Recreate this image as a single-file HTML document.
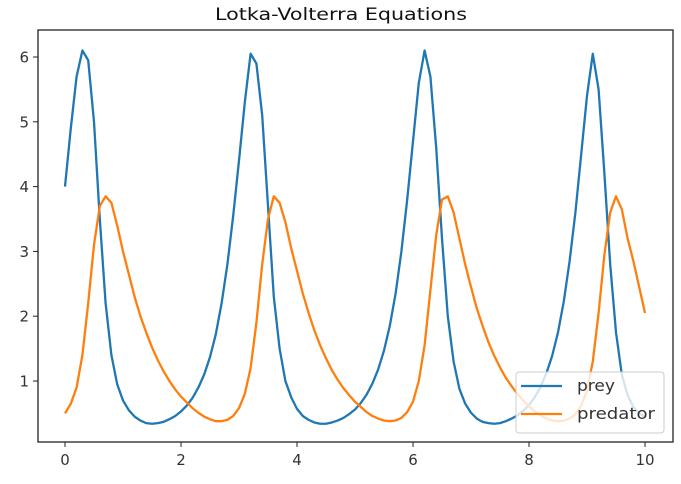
<!DOCTYPE html>
<html><head><meta charset="utf-8"><style>
body{margin:0;background:#fff;}
svg{display:block;font-family:"DejaVu Sans","Liberation Sans",sans-serif;}
</style></head><body>
<svg id="chart" width="681" height="484" viewBox="0 0 681 484">
<text x="341" y="20" text-anchor="middle" font-size="17" fill="#111" textLength="252" lengthAdjust="spacingAndGlyphs">Lotka-Volterra Equations</text>
<g id="plot"></g>
</svg>
<script>
const times = [];
for (let i = 0; i <= 100; i++) times.push(i / 10);
const prey = [4.0,4.9,5.7,6.1,5.95,5.0,3.5,2.2,1.4,0.95,
0.7,0.55,0.45,0.39,0.35,0.34,0.35,0.37,0.41,0.46,
0.53,0.62,0.74,0.9,1.1,1.37,1.72,2.2,2.8,3.55,
4.4,5.3,6.05,5.9,5.1,3.7,2.3,1.5,1.0,0.75,
0.57,0.46,0.4,0.36,0.34,0.34,0.36,0.39,0.43,0.49,
0.56,0.66,0.79,0.96,1.18,1.47,1.85,2.35,3.0,3.8,
4.7,5.6,6.1,5.7,4.6,3.2,2.0,1.3,0.88,0.65,
0.51,0.42,0.37,0.35,0.34,0.35,0.38,0.42,0.47,0.54,
0.63,0.75,0.91,1.12,1.39,1.75,2.23,2.85,3.6,4.5,
5.4,6.05,5.5,4.2,2.8,1.75,1.1,0.78,0.6,0.5,0.45];
const predator = [0.5,0.65,0.9,1.4,2.2,3.1,3.7,3.85,3.75,3.4,
3.0,2.65,2.3,2.0,1.75,1.52,1.32,1.15,1.0,0.87,
0.76,0.67,0.58,0.51,0.45,0.41,0.38,0.38,0.4,0.46,
0.58,0.8,1.2,1.9,2.8,3.5,3.85,3.75,3.45,3.05,
2.7,2.35,2.05,1.78,1.55,1.35,1.17,1.02,0.89,0.78,
0.68,0.6,0.52,0.46,0.42,0.39,0.38,0.39,0.43,0.52,
0.68,1.0,1.55,2.4,3.25,3.8,3.85,3.6,3.2,2.8,
2.45,2.12,1.85,1.6,1.39,1.21,1.05,0.92,0.8,0.7,
0.61,0.53,0.47,0.42,0.39,0.38,0.39,0.42,0.49,0.62,
0.85,1.3,2.05,2.95,3.6,3.85,3.65,3.2,2.85,2.45,2.05];
const xTicks = [0,2,4,6,8,10];
const yTicks = [1,2,3,4,5,6];

const NS = "http://www.w3.org/2000/svg";
const g = document.getElementById('plot');
const L = 38, R = 673, T = 30, B = 442;
const sx = v => 65 + v * 58;
const sy = v => 445.8 - v * 64.8;
function mk(tag, attrs, parent) {
  const e = document.createElementNS(NS, tag);
  for (const k in attrs) e.setAttribute(k, attrs[k]);
  (parent || g).appendChild(e);
  return e;
}
const frame = mk('rect', {x:L, y:T, width:R-L, height:B-T, fill:'none', stroke:'#222', 'stroke-width':1.3});


xTicks.forEach(v => {
  const tk = mk('line', {x1:sx(v), x2:sx(v), y1:B, y2:B+5, stroke:'#222'});
  
  
  const t = mk('text', {x:sx(v), y:B+23, 'text-anchor':'middle', 'font-size':15, fill:'#333'});
  t.textContent = v;
  
  
});
yTicks.forEach(v => {
  const tk = mk('line', {x1:L-5, x2:L, y1:sy(v), y2:sy(v), stroke:'#222'});
  
  
  const t = mk('text', {x:L-9, y:sy(v)+5.5, 'text-anchor':'end', 'font-size':15, fill:'#333'});
  t.textContent = v;
  
  
});
function line(arr, color, name) {
  const d = arr.map((v, i) => (i ? 'L' : 'M') + sx(times[i]).toFixed(2) + ',' + sy(v).toFixed(2)).join('');
  const p = mk('path', {d:d, fill:'none', stroke:color, 'stroke-width':2.3, 'stroke-linejoin':'round'});
  
  
}
line(prey, '#1f77b4', 'prey-line');
line(predator, '#ff7f0e', 'predator-line');
// legend
const lg = mk('g', {});


mk('rect', {x:516, y:372, width:148, height:61, rx:3, fill:'#fff', 'fill-opacity':0.8, stroke:'#ccc'}, lg);
[['prey','#1f77b4',386,38],['predator','#ff7f0e',414,78]].forEach(([lab,c,y,w]) => {
  const l = mk('line', {x1:521, x2:562, y1:y, y2:y, stroke:c, 'stroke-width':2.3}, lg);
  
  
  const t = mk('text', {x:577, y:y+5, 'font-size':16, fill:'#333', textLength:w, lengthAdjust:'spacingAndGlyphs'}, lg);
  t.textContent = lab;
  
  
});
</script>
</body></html>
